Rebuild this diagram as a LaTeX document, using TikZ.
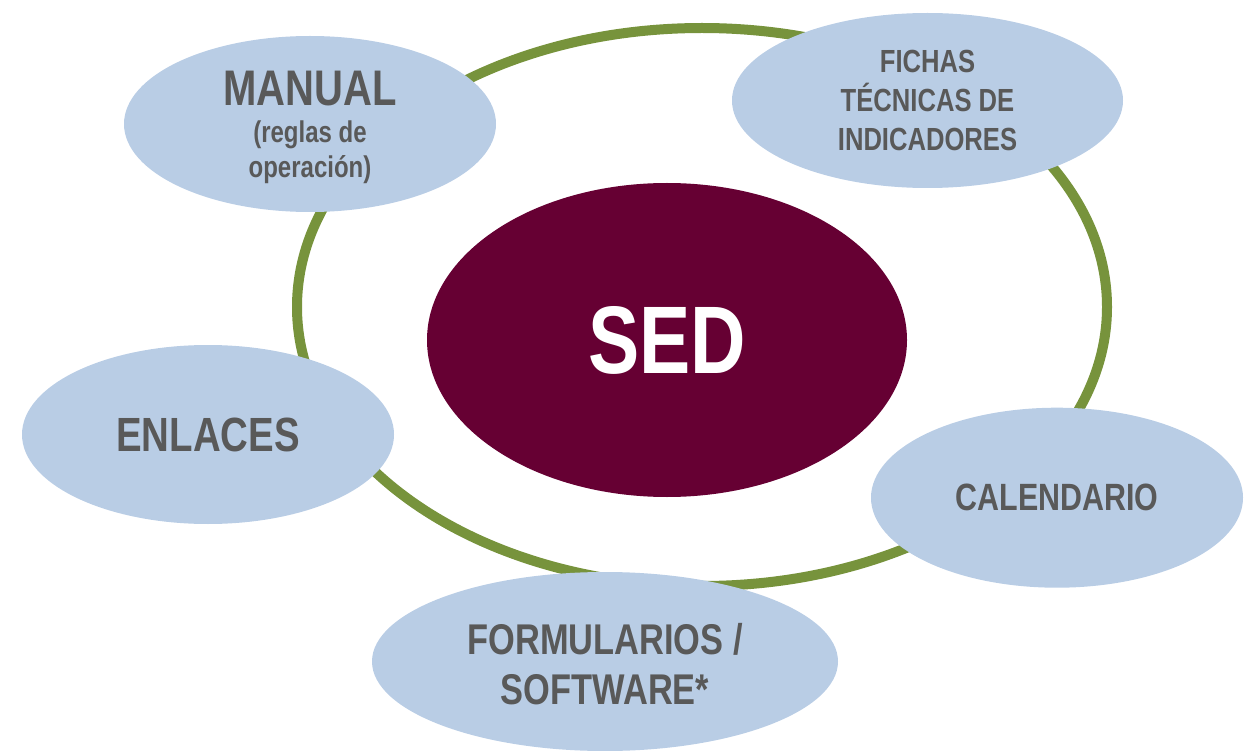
\documentclass[tikz,border=0pt]{standalone}
\usepackage{fontspec}
\setmainfont{Liberation Sans}[FakeStretch=0.8]
\usetikzlibrary{shapes.geometric}
\definecolor{azulclaro}{HTML}{B9CDE5}
\definecolor{guinda}{HTML}{660033}
\definecolor{verde}{HTML}{77933C}
\definecolor{gristexto}{HTML}{595959}
\tikzset{%
  elemento/.style = {shape=ellipse, fill=azulclaro, inner sep=0pt,%
                     minimum width=372pt, minimum height=176pt,%
                     align=center, text=gristexto},%
  centro/.style   = {shape=ellipse, fill=guinda, inner sep=0pt,%
                     minimum width=480pt, minimum height=314pt,%
                     text=white, font=\bfseries\fontsize{96}{110}\selectfont},%
  anillo/.style   = {shape=ellipse, draw=verde, line width=10pt,%
                     minimum width=810pt, minimum height=558pt}%
}

\begin{document}
\begin{tikzpicture}[x=1pt,y=-1pt]
	\useasboundingbox (0,0) rectangle (1245,751);
	% anillo verde
	\node [anillo] (anillo) at (702,307) {};
	% SED al centro
	\node [centro] (sed) at (667,340) {SED};
	% elementos alrededor
	\node [elemento, font=\bfseries\fontsize{30}{35}\selectfont]
		(manual) at (310,124)
		{\rule{0pt}{42pt}{\fontsize{50}{37}\selectfont MANUAL}\\[2pt](reglas de\\operación)};
	\node [elemento, minimum width=391pt, minimum height=175pt,
		font=\bfseries\fontsize{32}{39}\selectfont]
		(fichas) at (927.5,100.5) {FICHAS\\TÉCNICAS DE\\INDICADORES};
	\node [elemento, minimum height=179pt, font=\bfseries\fontsize{48}{56}\selectfont]
		(enlaces) at (208,434.5) {ENLACES};
	\node [elemento, minimum height=180pt, font=\bfseries\fontsize{38}{46}\selectfont]
		(calendario) at (1057,497.7) {CALENDARIO};
	\node [elemento, minimum width=466pt, minimum height=179pt,
		font=\bfseries\fontsize{43}{50}\selectfont]
		(formularios) at (605,661.5) {\rule{0pt}{36pt}FORMULARIOS /\\SOFTWARE*};
\end{tikzpicture}
\end{document}
